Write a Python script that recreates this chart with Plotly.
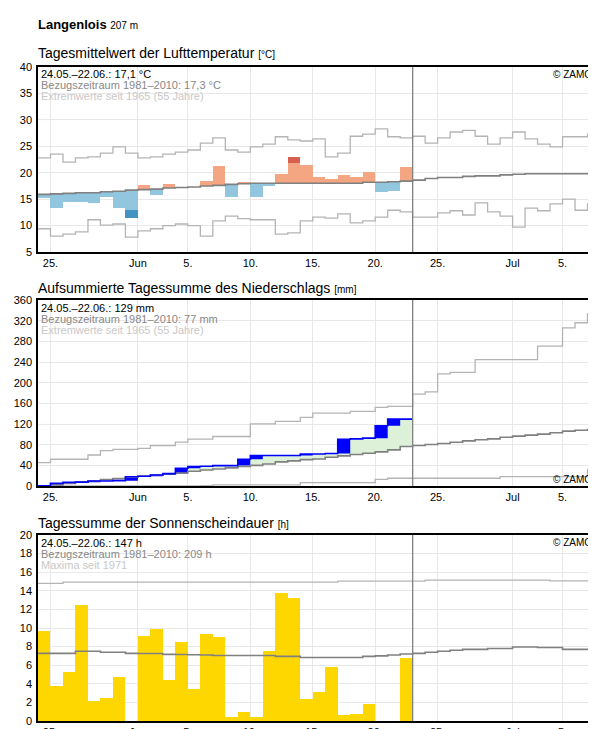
import plotly.graph_objects as go
import pandas as pd

start = pd.Timestamp("2019-05-24")
days = [start + pd.Timedelta(days=i) for i in range(45)]
day_end = start + pd.Timedelta(days=45)

# Temperature
temp_obs = [15.3,13.4,14.5,14.5,14.3,15.5,13.3,11.4,17.6,15.7,17.9,17.2,17.3,18.5,21.3,
            15.5,18.3,15.5,17.4,19.8,23.0,21.5,19.1,18.9,19.6,19.1,20.2,16.4,16.6,21.1]
temp_clim = [15.9,16.0,16.1,16.2,16.2,16.4,16.5,16.7,16.8,16.9,17.1,17.2,17.3,17.5,17.6,
             17.8,17.9,18.0,18.0,18.0,18.0,18.0,18.0,18.0,18.0,18.0,18.2,18.2,18.3,18.4,
             18.6,18.9,19.1,19.1,19.3,19.4,19.4,19.6,19.7,19.8,19.8,19.8,19.8,19.8,19.8]
temp_max = [22.8,23.5,22.0,22.8,23.0,23.7,24.9,23.7,22.8,23.0,23.5,23.9,24.3,25.6,26.6,
            24.3,23.9,24.9,25.4,26.8,26.2,26.0,26.4,23.0,23.7,26.9,27.3,28.3,26.8,26.6,
            26.9,25.6,26.6,27.7,28.0,26.9,25.4,26.6,27.7,26.4,25.4,24.9,26.8,26.8,27.3]
temp_min = [9.4,8.0,8.4,8.8,11.1,10.1,10.3,7.8,9.0,9.4,10.0,10.3,10.0,8.0,10.9,
            11.8,11.3,11.1,11.1,8.4,8.6,10.9,11.6,11.4,12.2,10.5,10.9,11.6,12.9,12.6,
            11.6,11.6,12.4,12.8,12.0,14.3,12.6,11.8,9.7,13.3,12.8,14.1,15.0,12.9,14.1]

# Precipitation (cumulative)
prec_obs = [0.5,5,7,7.5,9.7,9.7,10.4,18,19,21.4,24,34.3,37.6,38.2,39.5,39.5,51.8,58.9,59,59,
            59,62,62,62.8,90.6,91.3,92.6,116.5,129.5,129.5]
prec_clim = [0.6,2.6,5,7.8,9.7,12.3,14.2,16.8,19.4,21.4,23.3,25.2,28.5,31,33,35,37.6,40,42.7,46.6,
             48.6,51,52.4,55.7,58.3,61,63.5,66,70,76.4,
             78.3,80.3,82.2,84.8,87.4,89.4,91.3,94.5,96.5,98.4,100.4,103,106.2,108,109.4]
prec_max = [45.3,51.8,51.8,51.8,60,68.6,71,71,73,78,78,84.8,90.6,90.6,95.8,95.8,95.8,120.4,120.4,125,
            125,132.7,141,141,141,144.4,144.4,152,154,154,
            178,182,217,220,220,244.7,244.7,244.7,244.7,244.7,270.6,270.6,306,316,333.5]
prec_min = [0]*13 + [0.6,2,2,2,2,2,2,2,6.5,6.5,6.5,6.5,6.5,6.5,13,15,15] + [15]*7 + [18]*7 + [32]

# Sunshine
sun_obs = [9.7,3.74,5.25,12.5,2.2,2.45,4.7,0,9.1,9.9,4.4,8.5,3.4,9.35,9.0,0.4,0.95,0.4,7.5,13.8,
           13.25,2.35,3.1,5.8,0.6,0.7,1.8,0,0,6.75]
sun_clim = [7.27,7.27,7.27,7.5,7.5,7.4,7.4,7.27,7.25,7.25,7.16,7.15,7.12,7.1,7.05,7.05,7.05,7.05,7.05,6.95,
            6.95,6.83,6.83,6.83,6.83,6.83,6.95,7.0,7.1,7.2,
            7.27,7.4,7.5,7.6,7.7,7.7,7.8,7.8,7.95,7.95,7.9,7.9,7.7,7.7,7.7]
sun_max = [14.8,14.8] + [14.93]*22 + [15.04]*6 + [15.04] + [15.14]*10 + [15.07]*4

xticks = ["2019-05-25","2019-06-01","2019-06-05","2019-06-10","2019-06-15","2019-06-20",
          "2019-06-25","2019-07-01","2019-07-05"]
xticktext = ["25.","Jun","5.","10.","15.","20.","25.","Jul","5."]

n = len(temp_obs)
mid = [d + pd.Timedelta(hours=12) for d in days[:n]]
W = 86400000
stepx = days + [day_end]
def stepy(v): return list(v) + [v[-1]]

fig = go.Figure()
FONT = "Liberation Sans, Arial, sans-serif"

def step(vals, color, xa, ya, width=1.3, x=None):
    xs = x if x is not None else stepx
    fig.add_trace(go.Scatter(x=xs, y=stepy(vals), mode="lines", line=dict(shape="hv", color=color, width=width),
                             xaxis=xa, yaxis=ya, showlegend=False, hoverinfo="skip"))

# Panel 1
thr = 3.8
light_base, light_h, light_c, dark_base, dark_h, dark_c = [], [], [], [], [], []
for o, c in zip(temp_obs, temp_clim[:n]):
    d = o - c
    if d >= 0:
        lim = min(o, c + thr)
        light_base.append(c); light_h.append(lim - c); light_c.append("#f4a582")
        dark_base.append(lim); dark_h.append(max(0, o - lim)); dark_c.append("#d6604d")
    else:
        lim = max(o, c - thr)
        light_base.append(lim); light_h.append(c - lim); light_c.append("#92c5de")
        dark_base.append(o); dark_h.append(max(0, lim - o)); dark_c.append("#4393c3")
fig.add_trace(go.Bar(x=mid, y=light_h, base=light_base, width=W, marker=dict(color=light_c, line_width=0),
                     xaxis="x", yaxis="y", showlegend=False))
fig.add_trace(go.Bar(x=mid, y=dark_h, base=dark_base, width=W, marker=dict(color=dark_c, line_width=0),
                     xaxis="x", yaxis="y", showlegend=False))
step(temp_max, "#b4b4b4", "x", "y")
step(temp_min, "#b4b4b4", "x", "y")
step(temp_clim, "#808080", "x", "y", 1.6)

# Panel 2
sx30 = days[:n] + [days[n]]
fig.add_trace(go.Scatter(x=sx30, y=stepy(prec_clim[:n]), mode="lines", line=dict(shape="hv", width=0),
                         xaxis="x2", yaxis="y2", showlegend=False, hoverinfo="skip"))
top = [max(a, b) for a, b in zip(prec_obs, prec_clim[:n])]
fig.add_trace(go.Scatter(x=sx30, y=stepy(top), mode="lines", line=dict(shape="hv", width=0), fill="tonexty",
                         fillcolor="#dcf1d8", xaxis="x2", yaxis="y2", showlegend=False, hoverinfo="skip"))
prev = [0] + prec_obs[:-1]
rx, ry = [], []
for i in range(n):
    if prec_obs[i] - prev[i] > 0:
        a, b = days[i], days[i + 1]
        rx += [a, b, b, a, a, None]
        ry += [prev[i], prev[i], prec_obs[i], prec_obs[i], prev[i], None]
fig.add_trace(go.Scatter(x=rx, y=ry, mode="lines", fill="toself", fillcolor="#0000ff", line=dict(width=0),
                         xaxis="x2", yaxis="y2", showlegend=False, hoverinfo="skip"))
step(prec_max, "#b4b4b4", "x2", "y2")
step(prec_min, "#b4b4b4", "x2", "y2")
step(prec_clim, "#808080", "x2", "y2", 1.6)
step(prec_obs, "#0000ff", "x2", "y2", 1.6, x=sx30)

# Panel 3
fig.add_trace(go.Bar(x=mid, y=sun_obs, width=W, marker=dict(color="#ffd700", line_width=0),
                     xaxis="x3", yaxis="y3", showlegend=False))
step(sun_max, "#b4b4b4", "x3", "y3")
step(sun_clim, "#808080", "x3", "y3", 1.6)

H, L, R, T, B = 729, 30, 4, 59, 16
ph = H - T - B
def py(p): return (H - B - p) / ph
def px(p): return (p - L) / (596 - L - R)

doms = [(py(244), 1.0), (py(478), py(292)), (0.0, py(527))]
yr = [(5, 40, 5), (0, 360, 40), (0, 20, 2)]
ax = dict(showline=True, linecolor="black", linewidth=1.5, mirror=True, gridcolor="#e8e8e8", zeroline=False,
          tickfont=dict(family=FONT, size=11, color="black"), ticks="", automargin=False)
for i in range(3):
    s = "" if i == 0 else str(i + 1)
    fig.layout["xaxis" + s] = dict(ax, type="date", range=[start, day_end], tickvals=xticks, ticktext=xticktext,
                                   anchor="y" + s, domain=[0, 1], ticklabelstandoff=0)
    lo, hi, st = yr[i]
    fig.layout["yaxis" + s] = dict(ax, range=[lo, hi], dtick=st, tick0=lo, anchor="x" + s, domain=list(doms[i]),
                                   ticklabelstandoff=2)
    fig.add_shape(type="line", x0=days[n], x1=days[n], y0=0, y1=1, xref="x" + s, yref=f"y{s} domain",
                  line=dict(color="#808080", width=1.3))

ann = []
def txt(x, y, t, size=11, color="black", xanchor="left"):
    ann.append(dict(x=px(x), y=py(y), xref="paper", yref="paper", text=t, showarrow=False, xanchor=xanchor,
                    yanchor="middle", font=dict(family=FONT, size=size, color=color)))
txt(28, 17, "<b>Langenlois</b> <span style='font-size:10px'>207 m</span>", 13)
txt(28, 45, "Tagesmittelwert der Lufttemperatur <span style='font-size:10px'>[°C]</span>", 14)
txt(28, 280, "Aufsummierte Tagessumme des Niederschlags <span style='font-size:10px'>[mm]</span>", 14)
txt(28, 515, "Tagessumme der Sonnenscheindauer <span style='font-size:10px'>[h]</span>", 14)
for y0, lines in [(66, ["24.05.–22.06.: 17,1 °C", "Bezugszeitraum 1981–2010: 17,3 °C", "Extremwerte seit 1965 (55 Jahre)"]),
                  (300, ["24.05.–22.06.: 129 mm", "Bezugszeitraum 1981–2010: 77 mm", "Extremwerte seit 1965 (55 Jahre)"]),
                  (535, ["24.05.–22.06.: 147 h", "Bezugszeitraum 1981–2010: 209 h", "Maxima seit 1971"])]:
    for j, (t, c) in enumerate(zip(lines, ["black", "#888888", "#c8c8c8"])):
        txt(31, y0 + j * 11, t, 11, c)
txt(586, 66, "© ZAMG", 10, "black", "right")
txt(586, 471, "© ZAMG", 10, "black", "right")
txt(586, 534, "© ZAMG", 10, "black", "right")

fig.update_layout(width=596, height=729, margin=dict(l=L, r=R, t=T, b=B, autoexpand=False), paper_bgcolor="white",
                  plot_bgcolor="white", barmode="overlay", bargap=0, annotations=ann,
                  font=dict(family=FONT))
fig.write_html("out.html")
